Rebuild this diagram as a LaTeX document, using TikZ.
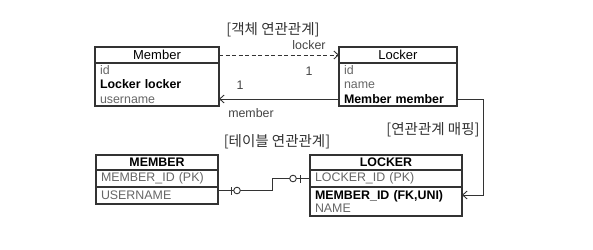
\documentclass[tikz,border=0pt]{standalone}
\usepackage{fontspec}
\setmainfont{Liberation Sans}
\newfontfamily\krfont{Noto Sans CJK KR}
\usepackage{xcolor}
\usetikzlibrary{positioning,arrows.meta,calc}

\definecolor{linegray}{HTML}{333333}
\definecolor{fieldgray}{HTML}{666666}
\definecolor{labelgray}{HTML}{444444}
\newcommand{\fieldtext}[1]{\textcolor{fieldgray}{#1}}

\tikzset{
  headbox/.style={draw=linegray, line width=1.1pt, outer sep=0pt, inner sep=0pt},
  rowbox/.style={draw=linegray, line width=1.1pt, outer sep=0pt, inner xsep=5pt, inner ysep=0pt, align=left},
  assoc/.style={draw=linegray, line width=0.9pt, -{Straight Barb[length=4.5pt,width=8pt]}},
  rel/.style={draw=linegray, line width=0.9pt},
  zeroring/.style={circle, draw=linegray, line width=0.9pt, fill=white, inner sep=0pt, minimum size=6.6pt},
  rolelabel/.style={text=labelgray, inner sep=0pt},
  krlabel/.style={text=linegray, inner sep=0pt, font=\krfont\fontsize{14.5}{16}\selectfont}
}

\begin{document}
\begin{tikzpicture}[x=1pt, y=-1pt, font=\fontsize{12.4}{14.5}\selectfont]
\useasboundingbox (0,0) rectangle (593,249);
% object model
\node[headbox, minimum width=124pt, minimum height=16pt, anchor=north west, font=\fontsize{13}{14.5}\selectfont] (member) at (95,47) {Member};
\node[rowbox, text width=114pt, minimum height=43pt, below=0pt of member] (memberbody)
  {\fieldtext{id}\\\textbf{Locker locker}\\\fieldtext{username}};
\node[headbox, minimum width=118pt, minimum height=16pt, anchor=north west, font=\fontsize{13}{14.5}\selectfont] (locker) at (339,47) {Locker};
\node[rowbox, text width=108pt, minimum height=43pt, below=0pt of locker] (lockerbody)
  {\fieldtext{id}\\\fieldtext{name}\\\textbf{Member member}};
\node[krlabel] (objtitle) at (273,30) {[객체 연관관계]};
% object references
\draw[assoc, dash pattern=on 4pt off 2.5pt] (member.east) -- (locker.west);
\node[rolelabel] (lockerrole) at (309,45) {locker};
\node[rolelabel] (lockermult) at (309,71) {1};
\draw[assoc] ([yshift=-36pt]lockerbody.north west) -- ([yshift=-36pt]memberbody.north east);
\node[rolelabel] (membermult) at (240,85) {1};
\node[rolelabel] (memberrole) at (251,113) {member};
% tables
\node[headbox, minimum width=122pt, minimum height=15pt, anchor=north west, font=\fontsize{12.4}{14.5}\selectfont\bfseries] (MEMBER) at (96,155) {MEMBER};
\node[rowbox, text width=112pt, minimum height=17pt, below=0pt of MEMBER] (memberid) {\fieldtext{MEMBER\_ID (PK)}};
\node[rowbox, text width=112pt, minimum height=17pt, below=0pt of memberid] (username) {\fieldtext{USERNAME}};
\node[headbox, minimum width=152pt, minimum height=15pt, anchor=north west, font=\fontsize{12.4}{14.5}\selectfont\bfseries] (LOCKER) at (310,155) {LOCKER};
\node[rowbox, text width=142pt, minimum height=17pt, below=0pt of LOCKER] (lockerid) {\fieldtext{LOCKER\_ID (PK)}};
\node[rowbox, text width=142pt, minimum height=29pt, below=0pt of lockerid, font=\fontsize{12.4}{13.5}\selectfont] (lockerrest)
  {\textbf{MEMBER\_ID (FK,UNI)}\\\fieldtext{NAME}};
\node[krlabel] (tabletitle) at (277,142) {[테이블 연관관계]};
% foreign key relation
\draw[rel] ([yshift=5pt]username.east) -- ++(54,0) |- (lockerid.west);
\draw[rel] ([xshift=13pt,yshift=1pt]username.east) -- ([xshift=13pt,yshift=9pt]username.east);
\node[zeroring] (memberzero) at ([xshift=19pt,yshift=5pt]username.east) {};
\draw[rel] ([xshift=-10pt,yshift=-4pt]lockerid.west) -- ([xshift=-10pt,yshift=4pt]lockerid.west);
\node[zeroring] (lockerzero) at ([xshift=-17pt]lockerid.west) {};
% mapping
\draw[assoc] ([yshift=-36pt]lockerbody.north east) -| ([xshift=21pt,yshift=6.5pt]lockerrest.east) -- ([yshift=6.5pt]lockerrest.east);
\node[krlabel] (maptitle) at (433,130) {[연관관계 매핑]};
\end{tikzpicture}
\end{document}
